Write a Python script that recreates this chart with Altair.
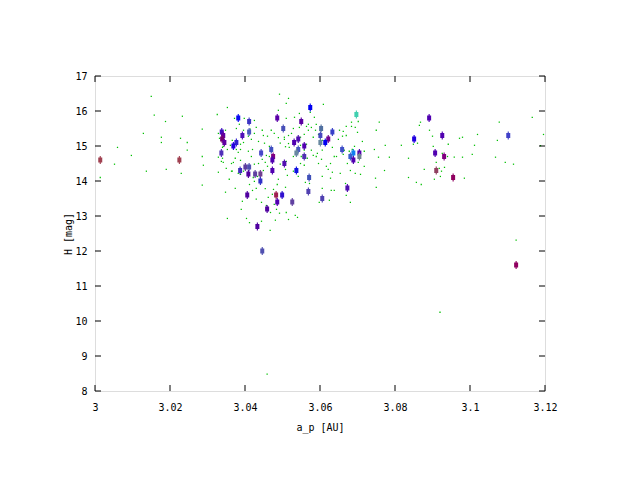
import altair as alt
import pandas as pd

# ---- background objects (small green dots): semi-major axis a_p [AU], H [mag]
green_a = [
    3.0150, 3.0158, 3.0188, 3.0233, 3.0129, 3.0177, 3.0177, 3.0228, 3.0246, 3.0246,
    3.0060, 3.0097, 3.0052, 3.0137, 3.0190, 3.0230, 3.0014, 3.0286, 3.0286, 3.0289,
    3.0286, 3.0329, 3.0326, 3.0353, 3.0372, 3.0385, 3.0398, 3.0377, 3.0396, 3.0329,
    3.0332, 3.0348, 3.0342, 3.0340, 3.0353, 3.0361, 3.0366, 3.0372, 3.0377, 3.0388,
    3.0388, 3.0396, 3.0382, 3.0329, 3.0340, 3.0337, 3.0342, 3.0364, 3.0369, 3.0374,
    3.0388, 3.0350, 3.0364, 3.0366, 3.0382, 3.0388, 3.0396, 3.0358, 3.0374, 3.0348,
    3.0393, 3.0390, 3.0353,
    3.0492, 3.0516, 3.0510, 3.0489, 3.0609, 3.0574, 3.0585, 3.0545, 3.0569, 3.0532,
    3.0510, 3.0425, 3.0430, 3.0470, 3.0478, 3.0489, 3.0505, 3.0524, 3.0529, 3.0545,
    3.0564, 3.0577, 3.0590, 3.0588, 3.0569, 3.0558, 3.0548, 3.0516, 3.0505, 3.0494,
    3.0516, 3.0508, 3.0518, 3.0529, 3.0548, 3.0564, 3.0582, 3.0596, 3.0606, 3.0617,
    3.0633, 3.0606, 3.0593, 3.0582, 3.0577, 3.0558, 3.0545, 3.0550, 3.0529, 3.0566,
    3.0548, 3.0558, 3.0590, 3.0604, 3.0596, 3.0628, 3.0617, 3.0638, 3.0622, 3.0633,
    3.0606, 3.0628, 3.0606, 3.0630, 3.0638, 3.0625, 3.0598, 3.0572, 3.0561, 3.0542,
    3.0529, 3.0508, 3.0513, 3.0510, 3.0494, 3.0473, 3.0465, 3.0454, 3.0460, 3.0449,
    3.0441, 3.0433, 3.0422, 3.0412, 3.0425, 3.0430, 3.0420, 3.0454, 3.0476, 3.0486,
    3.0489, 3.0508, 3.0500, 3.0473, 3.0462, 3.0430, 3.0444, 3.0457, 3.0478, 3.0484,
    3.0468, 3.0492, 3.0510, 3.0534, 3.0516, 3.0540, 3.0444, 3.0412, 3.0404, 3.0467,
    3.0481, 3.0420, 3.0409, 3.0417, 3.0425, 3.0436, 3.0446, 3.0457, 3.0470, 3.0465,
    3.0452, 3.0436, 3.0417, 3.0409, 3.0414, 3.0425, 3.0449, 3.0460, 3.0446,
    3.0652, 3.0662, 3.0670, 3.0684, 3.0684, 3.0702, 3.0694, 3.0700, 3.0670, 3.0660,
    3.0649, 3.0713, 3.0692, 3.0686, 3.0678, 3.0665, 3.0662, 3.0644, 3.0673, 3.0702,
    3.0718, 3.0681, 3.0654, 3.0694, 3.0708, 3.0668, 3.0670, 3.0681, 3.0718, 3.0745,
    3.0758, 3.0750, 3.0774, 3.0756, 3.0785, 3.0772, 3.0748, 3.0750,
    3.0868, 3.0865, 3.0892, 3.0900, 3.0817, 3.0849, 3.0860, 3.0902, 3.0942, 3.0836,
    3.0910, 3.0926, 3.0940, 3.0958, 3.0980, 3.0972, 3.0980, 3.1020, 3.1012, 3.1006,
    3.0918, 3.0932, 3.0924, 3.0878, 3.0921, 3.0905, 3.0836, 3.0857, 3.0870, 3.0985,
    3.1078, 3.1073, 3.1068, 3.1094, 3.1116, 3.1166, 3.1196, 3.1188,
    3.1123, 3.0920, 3.0459,
]
green_h = [
    16.42, 15.88, 15.70, 15.85, 15.36, 15.25, 15.10, 15.22, 15.10, 14.88,
    14.96, 14.73, 14.48, 14.28, 14.33, 14.22, 14.10, 15.48, 14.70, 14.45,
    13.88, 14.25, 15.90, 16.10, 15.79, 15.62, 15.79, 15.50, 15.45, 15.36,
    15.22, 15.45, 14.99, 14.96, 14.90, 15.02, 15.16, 15.05, 14.90, 15.05,
    14.90, 15.10, 14.82, 14.68, 14.65, 14.56, 14.53, 14.50, 14.53, 14.65,
    14.59, 14.36, 14.28, 14.28, 14.22, 14.19, 14.28, 14.05, 13.79, 13.68,
    13.42, 13.19, 12.93,
    16.48, 16.36, 16.22, 16.02, 16.19, 15.96, 15.82, 15.93, 15.62, 15.82,
    15.79, 15.73, 15.53, 15.45, 15.36, 15.24, 15.25, 15.36, 15.50, 15.53,
    15.56, 15.53, 15.62, 15.45, 15.45, 15.33, 15.25, 15.30, 15.19, 15.08,
    15.07, 14.98, 14.96, 15.05, 15.02, 15.05, 15.25, 15.33, 15.16, 15.05,
    14.96, 14.88, 14.79, 14.73, 14.88, 14.88, 14.85, 14.70, 14.70, 14.65,
    14.50, 14.45, 14.70, 14.62, 14.50, 14.50, 14.42, 14.70, 14.33, 14.25,
    14.13, 14.08, 13.79, 13.73, 13.73, 13.45, 13.39, 13.93, 13.96, 14.13,
    14.28, 14.33, 14.16, 14.56, 14.48, 14.62, 14.70, 14.53, 14.42, 14.30,
    14.25, 14.13, 14.10, 13.90, 13.99, 13.79, 13.73, 13.78, 13.76, 13.90,
    14.05, 13.82, 13.65, 13.62, 13.53, 13.48, 13.39, 13.30, 13.33, 13.19,
    13.10, 13.08, 13.10, 13.02, 12.90, 12.96, 12.85, 12.81, 12.93, 12.59,
    12.88, 14.90, 14.85, 14.70, 14.48, 14.50, 14.62, 14.73, 14.85, 14.99,
    15.08, 15.13, 15.19, 15.28, 15.48, 15.36, 15.30, 15.28, 15.45,
    15.45, 15.42, 15.56, 15.56, 15.68, 15.70, 15.53, 15.39, 15.30, 15.28,
    15.19, 15.13, 14.99, 14.90, 14.85, 14.88, 14.76, 14.70, 14.50, 14.53,
    14.42, 14.30, 14.22, 14.22, 14.19, 13.93, 13.59, 13.39, 14.85, 14.90,
    15.68, 15.45, 15.02, 14.68, 14.68, 14.30, 14.08, 13.82,
    15.68, 15.59, 15.45, 15.28, 15.02, 15.05, 15.08, 14.99, 15.05, 14.65,
    14.53, 14.79, 14.70, 14.68, 14.68, 15.22, 15.25, 15.33, 15.02, 14.76,
    14.36, 14.39, 14.28, 14.33, 14.13, 14.05, 14.10, 13.96, 13.90, 14.08,
    15.68, 15.16, 14.68, 14.53, 14.48, 15.82, 15.33, 15.01,
    12.31, 10.25, 8.48,
]

# ---- family members (coloured markers)
obj_a = [
    3.0574, 3.0382, 3.0411, 3.0486, 3.0550, 3.0502, 3.0603, 3.0633, 3.0338, 3.0342,
    3.0393, 3.0411, 3.0601, 3.0339, 3.0345, 3.0377, 3.0542, 3.0622, 3.0531, 3.0601,
    3.0614, 3.0369, 3.0558, 3.0470, 3.0542, 3.0659, 3.0337, 3.0443, 3.0537, 3.0689,
    3.0475, 3.0558, 3.0473, 3.0505, 3.0387, 3.0401, 3.0411, 3.0473, 3.0537, 3.0409,
    3.0427, 3.0441, 3.0571, 3.0441, 3.0673, 3.0569, 3.0406, 3.0483, 3.0499, 3.0606,
    3.0486, 3.0526, 3.0459, 3.0433, 3.0446, 3.0697, 3.0705, 3.0681, 3.0705, 3.0689,
    3.0891, 3.0851, 3.0926, 3.1102, 3.0907, 3.0931, 3.0910, 3.0955, 3.1123, 3.0014,
    3.0225,
]
obj_h = [
    16.1, 15.8, 15.7, 15.8, 15.7, 15.5, 15.5, 15.4, 15.4, 15.3,
    15.3, 15.4, 15.3, 15.2, 15.1, 15.1, 15.2, 15.2, 15.1, 15.1,
    15.1, 15.0, 15.0, 14.9, 14.9, 14.9, 14.8, 14.8, 14.8, 14.8,
    14.7, 14.7, 14.6, 14.5, 14.3, 14.4, 14.4, 14.3, 14.3, 14.2,
    14.2, 14.2, 14.1, 14.0, 13.8, 13.7, 13.6, 13.6, 13.6, 13.5,
    13.4, 13.4, 13.2, 12.7, 12.0, 15.9, 14.8, 14.7, 14.7, 14.6,
    15.8, 15.2, 15.3, 15.3, 14.8, 14.7, 14.3, 14.1, 11.6, 14.6,
    14.6,
]
obj_colors = [
    "#0000f0", "#0a0af0", "#3c34c4", "#5a00a8", "#5a00a0", "#4850b8", "#5070a0", "#3840c8", "#4010c0", "#6000a0",
    "#5010b8", "#4858c0", "#4848c0", "#780070", "#6000a0", "#3020d0", "#5010b0", "#700090", "#5000b0", "#6888a0",
    "#0000f0", "#2000e0", "#5000b0", "#4050c0", "#4858c0", "#4050c8", "#5030b8", "#4848c8", "#6888a0", "#1080f0",
    "#800080", "#5030b0", "#5000b0", "#5010b0", "#4030c0", "#6040a0", "#5050b0", "#5000b0", "#1010e0", "#5000a0",
    "#6040a0", "#704090", "#4050b8", "#3030c8", "#5010b0", "#5040b0", "#5000a0", "#a02050", "#3010d0", "#5040b0",
    "#5000b0", "#6040a0", "#5000a0", "#5000a0", "#5050b0", "#40d0b0", "#5000b0", "#3a60d0", "#708090", "#5000b0",
    "#5000b0", "#2000e0", "#5000b0", "#4040c8", "#5000b0", "#800080", "#904060", "#900060", "#900060", "#a04050",
    "#a04050",
]

x_ticks = [3.0, 3.02, 3.04, 3.06, 3.08, 3.1, 3.12]
y_ticks = [8, 9, 10, 11, 12, 13, 14, 15, 16, 17]

W, H = 450, 315
FONT = "DejaVu Sans Mono"

green = pd.DataFrame({"a": green_a, "h": green_h})
objs = pd.DataFrame({"a": obj_a, "h": obj_h, "c": obj_colors})
xt = pd.DataFrame({"a": x_ticks})
yt = pd.DataFrame({"h": y_ticks})

xscale = alt.Scale(domain=[3.0, 3.12], nice=False, zero=False)
yscale = alt.Scale(domain=[8, 17], nice=False, zero=False)

xaxis = alt.Axis(values=x_ticks, format="~g", title="a_p [AU]", grid=False, domain=False,
                 ticks=False, labelPadding=11, labelFont=FONT, labelFontSize=10,
                 labelColor="black", labelFlush=False, labelOverlap=False,
                 titleFont=FONT, titleFontSize=10, titleFontWeight="normal",
                 titleColor="black", titleX=W / 2, titleY=36, titleBaseline="middle",
                 titleAlign="center")
yaxis = alt.Axis(values=y_ticks, format="d", title="H [mag]", grid=False, domain=False,
                 ticks=False, labelPadding=8, labelFont=FONT, labelFontSize=10,
                 labelColor="black", labelFlush=False, labelOverlap=False,
                 titleFont=FONT, titleFontSize=10, titleFontWeight="normal",
                 titleColor="black", titleX=-27, titleY=H / 2, titleAngle=-90,
                 titleBaseline="middle", titleAlign="center")


def X(field="a"):
    return alt.X(f"{field}:Q", scale=xscale, axis=xaxis)


def Y(field="h"):
    return alt.Y(f"{field}:Q", scale=yscale, axis=yaxis)


dots = alt.Chart(green).mark_square(size=1.6, color="#00c000", opacity=1).encode(x=X(), y=Y())

marker_path = "M-0.5,-0.6H0.5V0.6H-0.5Z M-0.14,-1H0.14V1H-0.14Z"
markers = alt.Chart(objs).mark_point(shape=marker_path, size=64, filled=True, opacity=1).encode(
    x=X(), y=Y(), color=alt.Color("c:N", scale=None))

tick_bottom = alt.Chart(xt).mark_rule(color="black", strokeWidth=1).encode(
    x=X(), y=alt.value(H), y2=alt.value(H - 6))
tick_top = alt.Chart(xt).mark_rule(color="black", strokeWidth=1).encode(
    x=X(), y=alt.value(0), y2=alt.value(6))
tick_left = alt.Chart(yt).mark_rule(color="black", strokeWidth=1).encode(
    y=Y(), x=alt.value(0), x2=alt.value(6))
tick_right = alt.Chart(yt).mark_rule(color="black", strokeWidth=1).encode(
    y=Y(), x=alt.value(W - 6), x2=alt.value(W))

chart = alt.layer(dots, markers, tick_bottom, tick_top, tick_left, tick_right).properties(
    width=W, height=H,
    autosize=alt.AutoSizeParams(type="none"),
    padding={"left": 87, "top": 68, "right": 87, "bottom": 81},
).configure_view(stroke="black", strokeWidth=1).configure(background="white")

chart.save("out.html", embed_options={"renderer": "svg", "actions": False})
